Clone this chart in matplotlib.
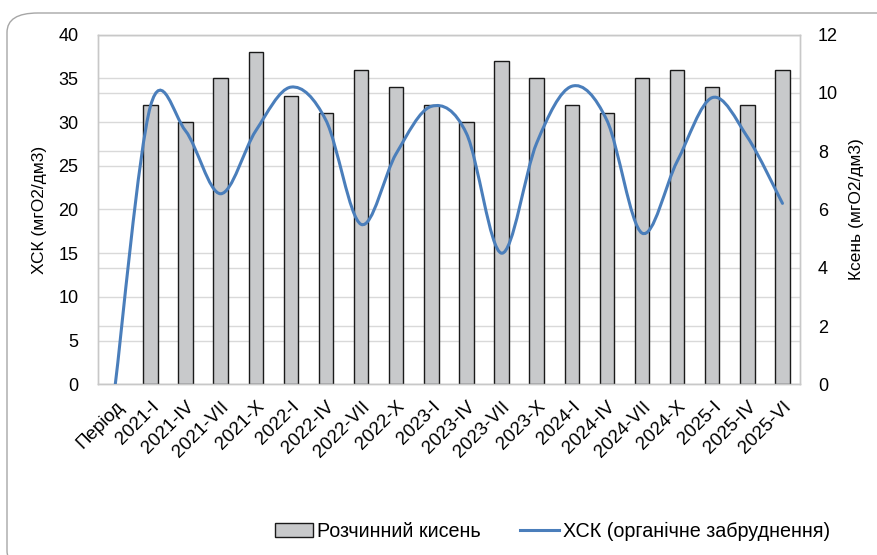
import numpy as np
import matplotlib
matplotlib.use('Agg')
import matplotlib.pyplot as plt
from matplotlib.path import Path
from matplotlib.patches import PathPatch, Patch, FancyBboxPatch
from matplotlib.lines import Line2D

periods = ['Період',
           '2021-I', '2021-IV', '2021-VII', '2021-X',
           '2022-I', '2022-IV', '2022-VII', '2022-X',
           '2023-I', '2023-IV', '2023-VII', '2023-X',
           '2024-I', '2024-IV', '2024-VII', '2024-X',
           '2025-I', '2025-IV', '2025-VI']
# dissolved oxygen, mgO2/dm3 (right axis); no value for the header row
oxygen = [None,
          9.6, 9.0, 10.5, 11.4,
          9.9, 9.3, 10.8, 10.2,
          9.6, 9.0, 11.1, 10.5,
          9.6, 9.3, 10.5, 10.8,
          10.2, 9.6, 10.8]
# COD, mgO2/dm3 (left axis)
cod = [0,
       31.8, 29.0, 21.8, 29.0,
       34.0, 30.2, 18.3, 26.4,
       31.8, 28.7, 15.0, 27.6,
       34.1, 30.2, 17.3, 25.5,
       32.8, 28.3, 20.7]

bar_name = 'Розчинний кисень'
line_name = 'ХСК (органічне забруднення)'
left_label = 'ХСК (мгО2/дм3)'
right_label = 'Ксень (мгО2/дм3)'

BLUE = '#4a7ebb'
GRID = '#d9d9d9'


def smooth_path(xs, ys):
    # cubic Bezier through every point, Catmull-Rom style tangents
    pts = np.column_stack([xs, ys]).astype(float)
    ext = np.vstack([pts[0], pts, pts[-1]])
    verts = [tuple(pts[0])]
    codes = [Path.MOVETO]
    for i in range(len(pts) - 1):
        p0, p1, p2, p3 = ext[i], ext[i + 1], ext[i + 2], ext[i + 3]
        c1 = p1 + (p2 - p0) / 6.0
        c2 = p2 - (p3 - p1) / 6.0
        verts += [tuple(c1), tuple(c2), tuple(p2)]
        codes += [Path.CURVE4] * 3
    return Path(verts, codes)


plt.rcParams['font.family'] = ['Liberation Sans', 'DejaVu Sans']

fig = plt.figure(figsize=(8.78, 5.55), dpi=100)

# rounded chart frame
frame = FancyBboxPatch((7 / 878, 1 - 570 / 555), 900 / 878, 557 / 555,
                       boxstyle='round,pad=0,rounding_size=0.035',
                       transform=fig.transFigure, facecolor='white',
                       edgecolor='#a6a6a6', linewidth=1.0, zorder=-10)
fig.patches.append(frame)

ax = fig.add_axes([0.1113, 0.3076, 0.7999, 0.6299])
ax2 = ax.twinx()
ax.set_zorder(2)
ax2.set_zorder(1)
ax.patch.set_visible(False)

x = np.arange(len(periods))

# bars on the right axis
bx = [i for i, v in enumerate(oxygen) if v is not None]
bv = [v for v in oxygen if v is not None]
ax2.bar(bx, bv, width=0.41, color='#c8c9cb', edgecolor='#1a1a1a',
        linewidth=1.0, zorder=3)

ax2.set_ylim(0, 12)
ax2.set_yticks(np.arange(0, 13, 2))
# left-axis grid lines (every 5) expressed on the right scale
ax2.set_yticks(np.arange(5, 40, 5) * 12 / 40, minor=True)
ax2.grid(True, which='both', axis='y', color=GRID, linewidth=1.0, zorder=0)
ax2.set_axisbelow(True)
ax2.tick_params(axis='y', which='both', length=0, pad=13, labelsize=13)
ax2.set_ylabel(right_label, fontsize=12.5, labelpad=8)

# smoothed COD line on the left axis
ax.add_patch(PathPatch(smooth_path(x, cod), facecolor='none', edgecolor=BLUE,
                       linewidth=2.2, capstyle='round', zorder=5))
ax.set_ylim(0, 40)
ax.set_yticks(np.arange(0, 41, 5))
ax.set_xlim(-0.5, len(periods) - 0.5)
ax.set_xticks(x)
ax.set_xticklabels(periods, rotation=45, ha='right', rotation_mode='anchor',
                   fontsize=13.5)
ax.tick_params(axis='y', length=0, pad=14, labelsize=13)
ax.tick_params(axis='x', length=0, pad=10)
ax.set_ylabel(left_label, fontsize=12.5, labelpad=8)

for a in (ax, ax2):
    for s in a.spines.values():
        s.set_color('#c8c8c8')
        s.set_linewidth(1.0)

handles = [Patch(facecolor='#c8c9cb', edgecolor='#1a1a1a', linewidth=1.0),
           Line2D([0], [0], color=BLUE, linewidth=2.2)]
fig.legend(handles, [bar_name, line_name], loc='center',
           bbox_to_anchor=(0.629, 1 - 531 / 555), ncol=2, frameon=False,
           fontsize=14.2, handlelength=1.95, handleheight=0.7,
           handletextpad=0.2, columnspacing=2.0)

fig.savefig('out.png', dpi=100)
